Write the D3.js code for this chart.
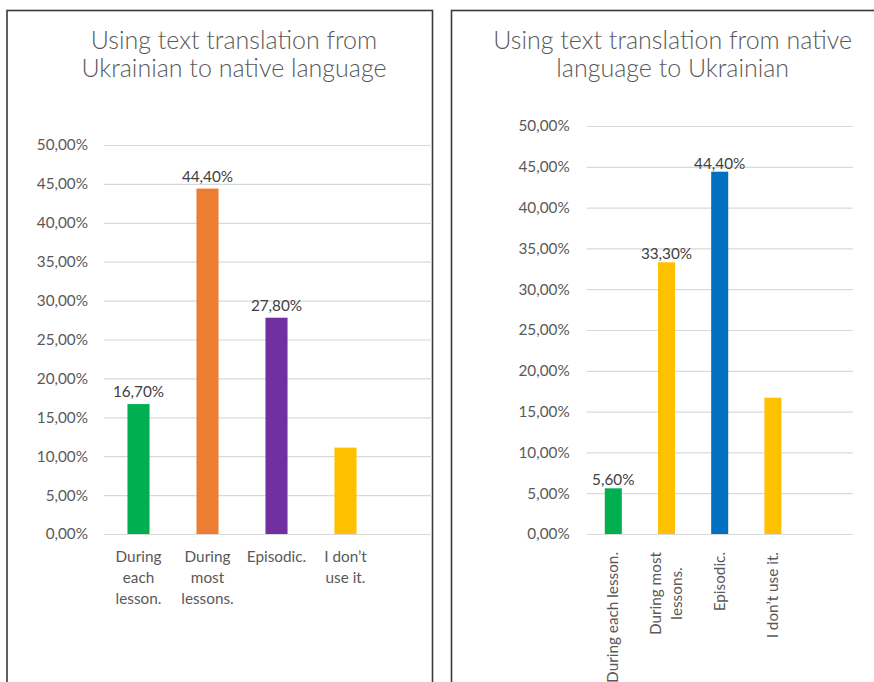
<!DOCTYPE html>
<html>
<head>
<meta charset="utf-8">
<script src="https://cdn.jsdelivr.net/npm/d3@7"></script>
<style>
  body { margin: 0; background: #fff; }
  text { font-family: Lato, "Open Sans", sans-serif; }
</style>
</head>
<body>
<div id="f1"></div>
<script>
const W = 874, H = 682;
const FS = "15.3px";

// data
const leftTitle = ["Using text translation from", "Ukrainian to native language"];
const leftCats = [["During", "each", "lesson."], ["During", "most", "lessons."], ["Episodic."], ["I don’t", "use it."]];
const leftVals = [0.167, 0.444, 0.278, 0.111];
const leftColors = ["#00B050", "#ED7D31", "#7030A0", "#FFC000"];

const rightTitle = ["Using text translation from native", "language to Ukrainian"];
const rightCats = [["During each lesson."], ["During most", "lessons."], ["Episodic."], ["I don’t use it."]];
const rightVals = [0.056, 0.333, 0.444, 0.167];
const rightColors = ["#00B050", "#FFC000", "#0070C0", "#FFC000"];

const yTicks = [0, 0.05, 0.10, 0.15, 0.20, 0.25, 0.30, 0.35, 0.40, 0.45, 0.50];

const locale = d3.formatLocale({decimal: ",", thousands: ".", grouping: [3], currency: ["", "€"]});
const pct = locale.format(".2%");

const svg = d3.select("#f1").append("svg")
    .attr("width", W)
    .attr("height", H);

// panel frames
svg.append("rect")
   .attr("x", 7).attr("y", 10.5).attr("width", 425.5).attr("height", 700)
   .attr("fill", "none").attr("stroke", "#3a3a3a").attr("stroke-width", 1.6);
svg.append("rect")
   .attr("x", 451.5).attr("y", 10.5).attr("width", 440).attr("height", 700)
   .attr("fill", "none").attr("stroke", "#3a3a3a").attr("stroke-width", 1.6);

function drawChart(opt){
    const g = svg.append("g");

    // title
    g.append("text")
     .attr("x", opt.titleX)
     .attr("text-anchor", "middle")
     .attr("fill", "#595959")
     .style("font-size", "25px")
     .style("font-weight", 300)
     .selectAll("tspan")
     .data(opt.title)
     .enter()
     .append("tspan")
     .attr("x", opt.titleX)
     .attr("y", (d, i) => 48.5 + i * 28.5)
     .text(d => d);

    const slots = opt.cats.map((c, i) => "c" + i).concat(["empty"]);
    const x = d3.scaleBand()
        .domain(slots)
        .range([opt.x0, opt.x0 + opt.step * slots.length])
        .paddingInner(0.68)
        .paddingOuter(0.34);
    const y = d3.scaleLinear().domain([0, 0.5]).range([534, opt.yTop]);

    // gridlines + tick labels
    const axis = d3.axisLeft(y)
        .tickValues(yTicks)
        .tickFormat(pct)
        .tickSizeInner(-(opt.gridEnd - opt.x0))
        .tickSizeOuter(0)
        .tickPadding(opt.tickPad);
    const ax = g.append("g")
        .attr("transform", `translate(${opt.x0},0)`)
        .call(axis);
    ax.select(".domain").remove();
    ax.selectAll(".tick line").attr("stroke", "#D9D9D9").attr("stroke-width", 1.2);
    ax.selectAll(".tick text")
      .attr("fill", "#595959")
      .style("font-size", FS)
      .style("font-family", "Lato, 'Open Sans', sans-serif");

    // bars
    g.selectAll("rect.bar")
     .data(opt.vals)
     .enter()
     .append("rect")
     .attr("class", "bar")
     .attr("x", (d, i) => x("c" + i))
     .attr("width", x.bandwidth())
     .attr("y", d => y(d))
     .attr("height", d => y(0) - y(d))
     .attr("fill", (d, i) => opt.colors[i]);

    // data labels
    opt.labelled.forEach(function(i){
        g.append("text")
         .attr("x", x("c" + i) + x.bandwidth() / 2)
         .attr("y", y(opt.vals[i]) - opt.labelGap)
         .attr("text-anchor", "middle")
         .attr("fill", "#404040")
         .style("font-size", FS)
         .text(pct(opt.vals[i]));
    });

    // category labels
    opt.cats.forEach(function(lines, i){
        const cx = x("c" + i) + x.bandwidth() / 2;
        if(!opt.rotate){
            g.append("text")
             .attr("text-anchor", "middle")
             .attr("fill", "#595959")
             .style("font-size", FS)
             .selectAll("tspan")
             .data(lines)
             .enter()
             .append("tspan")
             .attr("x", cx)
             .attr("y", (d, k) => 562 + k * 21)
             .text(d => d);
        } else {
            const lg = g.append("g")
                .attr("transform", `translate(${cx},552) rotate(-90)`);
            const t = lg.append("text")
                .attr("fill", "#595959")
                .style("font-size", FS)
                .attr("text-anchor", "middle");
            const spans = t.selectAll("tspan")
                .data(lines)
                .enter()
                .append("tspan")
                .attr("y", (d, k) => (k - (lines.length - 1) / 2) * 21 + 5)
                .text(d => d);
            let maxW = 0;
            spans.each(function(){ maxW = Math.max(maxW, this.getComputedTextLength()); });
            spans.attr("x", -maxW / 2);
        }
    });
}

drawChart({
    title: leftTitle, titleX: 234,
    cats: leftCats, vals: leftVals, colors: leftColors,
    x0: 104, step: 69, gridEnd: 432, yTop: 145, tickPad: 16,
    labelled: [0, 1, 2], labelGap: 7, rotate: false
});

drawChart({
    title: rightTitle, titleX: 672.7,
    cats: rightCats, vals: rightVals, colors: rightColors,
    x0: 586.7, step: 53.2, gridEnd: 852.7, yTop: 126, tickPad: 17,
    labelled: [0, 1, 2], labelGap: 3, rotate: true
});
</script>
</body>
</html>
